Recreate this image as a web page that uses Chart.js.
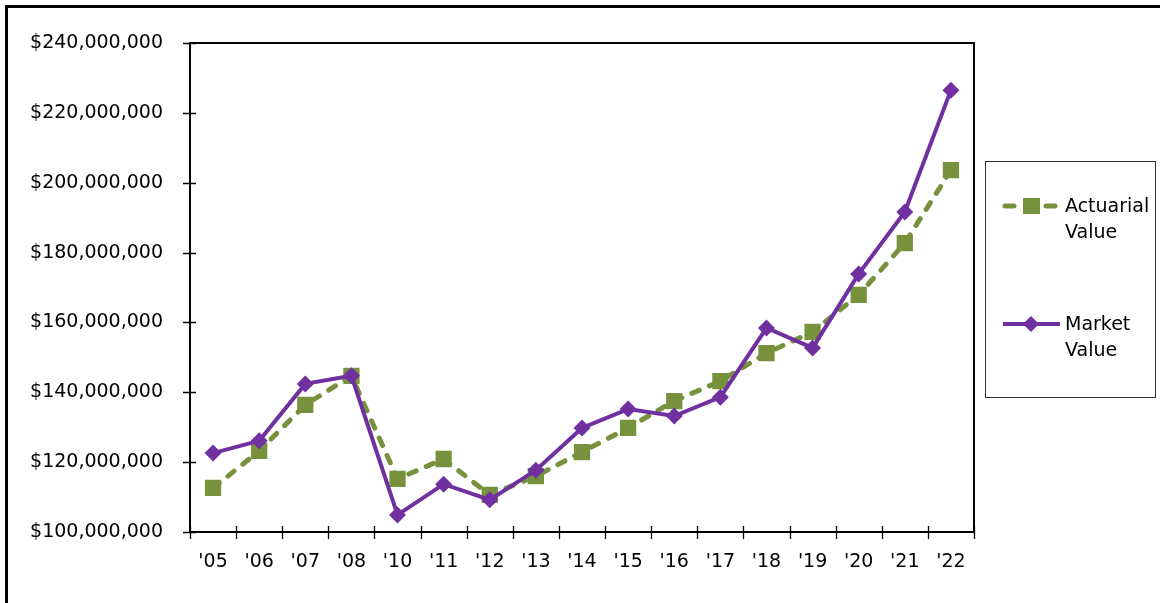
<!DOCTYPE html>
<html>
<head>
<meta charset="utf-8">
<script src="https://cdn.jsdelivr.net/npm/chart.js@4.4.1/dist/chart.umd.min.js"></script>
<style>
  html, body { margin: 0; padding: 0; background: #fff; overflow: hidden; }
  #wrap { position: relative; width: 1160px; height: 603px; }
  #frame {
    position: absolute; left: 5px; top: 5px; width: 2000px; height: 2000px;
    border-left: 3px solid #000; border-top: 3px solid #000; pointer-events: none;
  }
</style>
</head>
<body>
<div id="wrap">
  <canvas id="chart" width="1160" height="603"></canvas>
  <div id="frame"></div>
</div>
<script>
// Chart data
const years = ["'05", "'06", "'07", "'08", "'10", "'11", "'12", "'13", "'14", "'15", "'16", "'17", "'18", "'19", "'20", "'21", "'22"];
const actuarialValue = [112.6, 123.2, 136.4, 144.7, 115.2, 120.9, 110.6, 116.0, 122.9, 129.8, 137.5, 143.2, 151.2, 157.3, 167.9, 182.7, 203.6].map(v => v * 1e6);
const marketValue = [122.6, 126.1, 142.4, 144.7, 104.9, 113.7, 109.2, 117.7, 129.8, 135.2, 133.2, 138.6, 158.4, 152.7, 173.9, 191.6, 226.5].map(v => v * 1e6);

const GREEN = '#76923c';
const PURPLE = '#7030a0';
const FONT = '"DejaVu Sans", sans-serif';

// Plot box, tick marks crossing the axes, and the side legend
const decorPlugin = {
    id: 'decor',
    afterDraw(chart) {
        const ctx = chart.ctx;
        const area = chart.chartArea;
        const xs = chart.scales.x;
        const ys = chart.scales.y;
        ctx.save();
        ctx.strokeStyle = '#000';
        ctx.lineWidth = 2;
        ctx.strokeRect(area.left, area.top, area.right - area.left, area.bottom - area.top);

        ctx.lineWidth = 1.3;
        ctx.beginPath();
        ys.ticks.forEach((t, i) => {
            const y = Math.round(ys.getPixelForTick(i)) + 0.5;
            ctx.moveTo(area.left - 7, y);
            ctx.lineTo(area.left + 6, y);
        });
        for (let i = 0; i <= years.length; i++) {
            const x = Math.round(xs.getPixelForValue(i - 0.5)) + 0.5;
            ctx.moveTo(x, area.bottom - 6);
            ctx.lineTo(x, area.bottom + 7);
        }
        ctx.stroke();

        // legend box
        ctx.lineWidth = 1;
        ctx.strokeStyle = '#333';
        ctx.strokeRect(985.5, 161.5, 170, 236);

        // actuarial entry
        ctx.strokeStyle = GREEN;
        ctx.lineWidth = 5;
        ctx.lineCap = 'round';
        ctx.beginPath();
        ctx.moveTo(1005, 206);
        ctx.lineTo(1014, 206);
        ctx.moveTo(1046, 206);
        ctx.lineTo(1055, 206);
        ctx.stroke();
        ctx.lineCap = 'butt';
        ctx.fillStyle = GREEN;
        ctx.fillRect(1023, 198, 17, 16);

        // market entry
        ctx.strokeStyle = PURPLE;
        ctx.lineWidth = 4;
        ctx.beginPath();
        ctx.moveTo(1003, 324);
        ctx.lineTo(1060, 324);
        ctx.stroke();
        ctx.fillStyle = PURPLE;
        ctx.beginPath();
        ctx.moveTo(1031, 316);
        ctx.lineTo(1039, 324);
        ctx.lineTo(1031, 332);
        ctx.lineTo(1023, 324);
        ctx.closePath();
        ctx.fill();

        ctx.fillStyle = '#000';
        ctx.font = '19px ' + FONT;
        ctx.textBaseline = 'middle';
        ctx.textAlign = 'left';
        ctx.fillText('Actuarial', 1065, 207);
        ctx.fillText('Value', 1065, 233);
        ctx.fillText('Market', 1065, 325);
        ctx.fillText('Value', 1065, 351);
        ctx.restore();
    }
};

new Chart(document.getElementById('chart').getContext('2d'), {
    type: 'line',
    data: {
        labels: years,
        datasets: [{
            label: 'Actuarial Value',
            data: actuarialValue,
            borderColor: GREEN,
            backgroundColor: GREEN,
            borderWidth: 5,
            borderDash: [8, 11],
            borderCapStyle: 'round',
            pointStyle: 'rect',
            pointRadius: 11.5,
            pointBorderWidth: 0,
            order: 1
        }, {
            label: 'Market Value',
            data: marketValue,
            borderColor: PURPLE,
            backgroundColor: PURPLE,
            borderWidth: 4,
            pointStyle: 'rectRot',
            pointRadius: 8.5,
            pointBorderWidth: 0,
            order: 0
        }]
    },
    options: {
        responsive: false,
        animation: false,
        events: [],
        layout: { padding: { top: 43, right: 186, bottom: 0, left: 0 } },
        plugins: {
            legend: { display: false },
            tooltip: { enabled: false }
        },
        scales: {
            x: {
                offset: true,
                grid: { display: false },
                border: { display: false },
                ticks: {
                    color: '#000',
                    font: { family: FONT, size: 19 },
                    padding: 11,
                    maxRotation: 0,
                    autoSkip: false
                },
                afterFit(scale) { scale.height = 71; }
            },
            y: {
                min: 100000000,
                max: 240000000,
                grid: { display: false },
                border: { display: false },
                ticks: {
                    stepSize: 20000000,
                    color: '#000',
                    font: { family: FONT, size: 19 },
                    padding: 19,
                    callback: v => '$' + v.toLocaleString('en-US')
                },
                afterFit(scale) { scale.width = 190; }
            }
        }
    },
    plugins: [decorPlugin]
});
</script>
</body>
</html>
